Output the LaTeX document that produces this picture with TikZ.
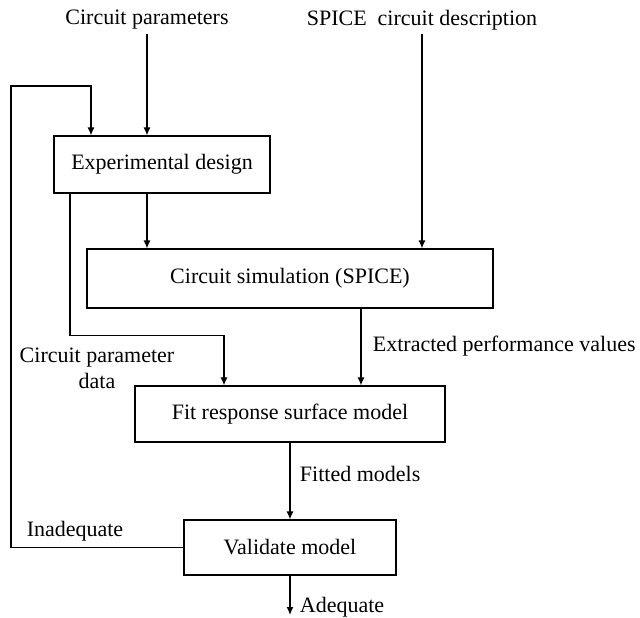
\documentclass[tikz,border=0pt]{standalone}
\usepackage{fontspec}
\setmainfont{Liberation Serif}
\usetikzlibrary{arrows.meta}

\begin{document}
\begin{tikzpicture}[x=1pt, y=-1pt, line width=1.2pt,
  font=\fontsize{22}{26}\selectfont,
  box/.style={draw, inner sep=0pt},
  arr/.style={-{Latex[length=8pt,width=7pt]}}]
\useasboundingbox (0,0) rectangle (640,618);

\node (cparam) at (147,20) {Circuit parameters};
\node (spice) at (422,20) {SPICE\ \ circuit description};

\node[box, minimum width=216pt, minimum height=57pt] (expdes) at (162,164.5) {Experimental design};
\node[box, minimum width=406pt, minimum height=59pt] (cirsim) at (290,278.5) {Circuit simulation (SPICE)};
\node[box, minimum width=310pt, minimum height=56pt] (fitrsm) at (290,414) {Fit response surface model};
\node[box, minimum width=212pt, minimum height=55pt] (valid) at (290,547.5) {Validate model};

\coordinate (loop) at (11,86);
\coordinate (done) at (290,615);

\draw [arr] (cparam) -- (cparam |- expdes.north);
\draw [arr] (spice) -- (spice |- cirsim.north);
\draw [arr] ([xshift=-15pt]expdes.south) -- ([xshift=-15pt]expdes.south |- cirsim.north);
\draw [arr] ([xshift=-92pt]expdes.south) |- ([xshift=-66pt, yshift=50pt]fitrsm.north) -- ([xshift=-66pt]fitrsm.north);
\draw [arr] ([xshift=71pt]cirsim.south) -- ([xshift=71pt]fitrsm.north);
\draw [arr] (fitrsm.south) -- (valid.north);
\draw [arr] (valid.south) -- (done);
\draw [arr] (valid.west) -| (loop) -| ([xshift=-71pt]expdes.north);

\node[anchor=west] (extract) at (369,346) {Extracted performance values};
\node[align=center] (cpdata) at (97,368) {Circuit parameter\\data};
\node[anchor=west] (fitted) at (296,474) {Fitted models};
\node (inadeq) at (75,531) {Inadequate};
\node[anchor=west] (adeq) at (296,607) {Adequate};
\end{tikzpicture}
\end{document}
